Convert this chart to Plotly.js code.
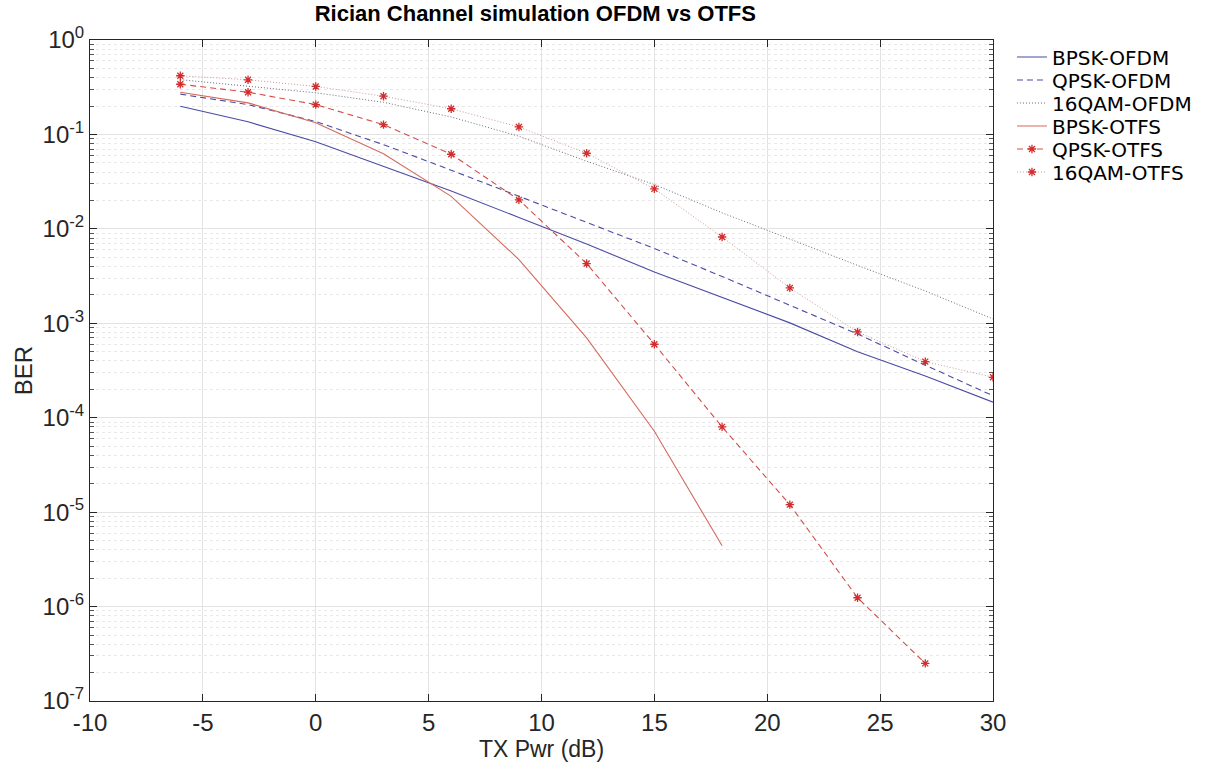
<!DOCTYPE html>
<html>
<head>
<meta charset="utf-8">
<script src="https://cdn.plot.ly/plotly-3.0.1.min.js"></script>
<style>
  html, body { margin: 0; padding: 0; background: #ffffff; }
  #chart { width: 1225px; height: 769px; }
</style>
</head>
<body>
<div id="chart"></div>
<script>
// ---- data ----
const txPwr = [-6, -3, 0, 3, 6, 9, 12, 15, 18, 21, 24, 27, 30];
const txPwrBpskOtfs = [-6, -3, 0, 3, 6, 9, 12, 15, 18];
const txPwrQpskOtfs = [-6, -3, 0, 3, 6, 9, 12, 15, 18, 21, 24, 27];

const berBpskOfdm  = [0.199, 0.136, 0.0835, 0.046, 0.0252, 0.0132, 0.0069, 0.0035, 0.00188, 0.00101, 0.000500, 0.000277, 0.000146];
const berQpskOfdm  = [0.267, 0.207, 0.137, 0.078, 0.0418, 0.0221, 0.0117, 0.0062, 0.00313, 0.00155, 0.00077, 0.00036, 0.000171];
const ber16qamOfdm = [0.38, 0.324, 0.276, 0.219, 0.153, 0.0957, 0.052, 0.0295, 0.0148, 0.0078, 0.0041, 0.0022, 0.00111];
const berBpskOtfs  = [0.28, 0.216, 0.133, 0.0623, 0.0221, 0.00473, 0.00070, 0.000072, 0.0000044];
const berQpskOtfs  = [0.340, 0.280, 0.207, 0.127, 0.0617, 0.0203, 0.00429, 0.00060, 0.000080, 0.000012, 0.00000124, 0.00000025];
const ber16qamOtfs = [0.418, 0.379, 0.322, 0.254, 0.187, 0.120, 0.0632, 0.0265, 0.0082, 0.00237, 0.00081, 0.000393, 0.000268];

const seriesNames = ['BPSK-OFDM', 'QPSK-OFDM', '16QAM-OFDM', 'BPSK-OTFS', 'QPSK-OTFS', '16QAM-OTFS'];

const xTickVals = [-10, -5, 0, 5, 10, 15, 20, 25, 30];
const xTickText = ['-10', '-5', '0', '5', '10', '15', '20', '25', '30'];
const yTickVals = [1e-7, 1e-6, 1e-5, 1e-4, 1e-3, 1e-2, 1e-1, 1];
const yTickText = ['10<sup>-7</sup>', '10<sup>-6</sup>', '10<sup>-5</sup>', '10<sup>-4</sup>',
                   '10<sup>-3</sup>', '10<sup>-2</sup>', '10<sup>-1</sup>', '10<sup>0</sup>'];

const titleText = 'Rician Channel simulation OFDM vs OTFS';
const xTitle = 'TX Pwr (dB)';
const yTitle = 'BER';

// ---- styling ----
const blue = '#4B4BA6';
const red = '#D0504A';
const redSolid = '#D46A5E';
const star = {symbol: 'asterisk-open', size: 7, color: '#D22E2E', line: {width: 1.3, color: '#D22E2E'}};

const legendIds = ['legend', 'legend2', 'legend3', 'legend4', 'legend5', 'legend6'];

const traces = [
  {x: txPwr, y: berBpskOfdm, mode: 'lines',
   line: {color: blue, width: 1.1}},
  {x: txPwr, y: berQpskOfdm, mode: 'lines',
   line: {color: blue, width: 1.1, dash: '6px,4px'}},
  {x: txPwr, y: ber16qamOfdm, mode: 'lines',
   line: {color: '#6a6a80', width: 1, dash: '1px,2px'}},
  {x: txPwrBpskOtfs, y: berBpskOtfs, mode: 'lines',
   line: {color: redSolid, width: 1.1}},
  {x: txPwrQpskOtfs, y: berQpskOtfs, mode: 'lines+markers',
   line: {color: red, width: 1.1, dash: '6px,4px'}, marker: star},
  {x: txPwr, y: ber16qamOtfs, mode: 'lines+markers',
   line: {color: '#c99a9a', width: 1, dash: '1px,2px'}, marker: star}
];
traces.forEach((t, i) => { t.name = seriesNames[i]; t.legend = legendIds[i]; t.showlegend = true; });

const fontFam = 'Liberation Sans, Arial, sans-serif';
const axisCommon = {
  showline: true, linecolor: '#262626', linewidth: 1, mirror: 'ticks',
  ticks: 'inside', ticklen: 7, tickcolor: '#262626', tickwidth: 1,
  showgrid: true, gridcolor: '#e3e3e3', gridwidth: 1, zeroline: false, automargin: false,
  tickfont: {family: fontFam, size: 24, color: '#262626'}
};

const marginT = 40, marginB = 68, figH = 769;
const plotH = figH - marginT - marginB;

const layout = {
  width: 1225, height: figH,
  paper_bgcolor: '#ffffff', plot_bgcolor: '#ffffff',
  margin: {l: 90, r: 232, t: marginT, b: marginB},
  title: {text: '<b>' + titleText + '</b>', x: 0.437, xanchor: 'center', y: 0.983, yanchor: 'middle',
          font: {family: fontFam, size: 22, color: '#000000'}},
  xaxis: Object.assign({}, axisCommon, {
    range: [-10, 30], tickmode: 'array', tickvals: xTickVals, ticktext: xTickText,
    title: {text: xTitle, font: {family: fontFam, size: 23, color: '#262626'}, standoff: 5}
  }),
  yaxis: Object.assign({}, axisCommon, {
    type: 'log', range: [-7, 0], tickmode: 'array', tickvals: yTickVals, ticktext: yTickText,
    title: {text: yTitle, font: {family: fontFam, size: 24, color: '#262626'}, standoff: 3},
    minor: {dtick: 'D1', showgrid: true, gridcolor: '#e8e8e8', griddash: 'dot', gridwidth: 1,
            ticks: 'inside', ticklen: 4, tickcolor: '#555555'}
  }),
  showlegend: true
};

// one legend box per entry so rows sit at the reference's 23px pitch
const rowTop = 57, rowPitch = 23;
legendIds.forEach((id, i) => {
  const py = rowTop + i * rowPitch;
  layout[id] = {
    x: 1.021, xanchor: 'left', y: (figH - marginB - py) / plotH, yanchor: 'middle',
    bgcolor: 'rgba(0,0,0,0)', borderwidth: 0,
    font: {family: 'DejaVu Sans, sans-serif', size: 20, color: '#000000'}, itemwidth: 30
  };
});

Plotly.newPlot('chart', traces, layout, {displayModeBar: false, staticPlot: true});
</script>
</body>
</html>
